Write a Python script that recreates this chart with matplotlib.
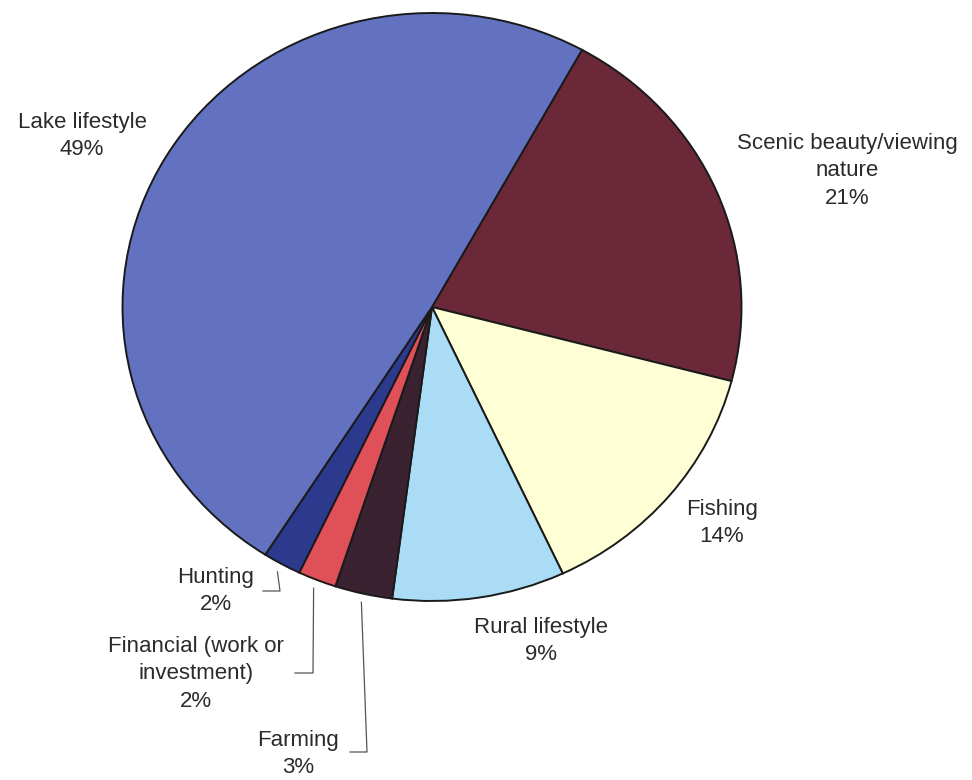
import numpy as np
import matplotlib.pyplot as plt

plt.rcParams['font.family'] = ['Liberation Sans', 'DejaVu Sans']

# reasons for owning property, share of responses
categories = ["Scenic beauty/viewing\nnature", "Fishing", "Rural lifestyle", "Farming",
              "Financial (work or\ninvestment)", "Hunting", "Lake lifestyle"]
shares = [21, 14, 9, 3, 2, 2, 49]
colors = ["#6a2838", "#ffffd6", "#aadcf6", "#3b2230", "#df5058", "#2c3a8e", "#6372c0"]

# label anchor (pixel centre of the text block) and optional leader elbow
label_pos = [(847, 171), (722, 523), (541, 641), (298, 754), (196, 674), (216, 591), (82, 136)]
leaders = {3: [(350, 752), (367, 752)], 4: [(295, 673), (313, 673)], 5: [(263, 591), (280, 591)]}

W, H = 972, 780
cx, cy, rx, ry = 432, 307, 309.5, 294.0


def px(x, y):
    "Converts a pixel position into pie data coordinates"
    return (x - cx) / rx, (cy - y) / ry


fig = plt.figure(figsize=(W / 100, H / 100), dpi=100)
ax = fig.add_axes([0, 0, 1, 1])
wedges, _ = ax.pie(shares, colors=colors, startangle=61, counterclock=False,
                   wedgeprops=dict(edgecolor="#1a1a1a", linewidth=1.4))
ax.set_aspect('auto')
x0, y0 = px(0, H)
x1, y1 = px(W, 0)
ax.set_xlim(x0, x1)
ax.set_ylim(y0, y1)
ax.axis('off')

for i, (name, val) in enumerate(zip(categories, shares)):
    tx, ty = px(*label_pos[i])
    ax.text(tx, ty, "%s\n%d%%" % (name, val), ha='center', va='center',
            fontsize=16, color="#2b2b2b", linespacing=1.42)
    if i in leaders:
        w = wedges[i]
        mid = np.deg2rad((w.theta1 + w.theta2) / 2)
        pts = [px(*p) for p in leaders[i]]
        pts.append((1.03 * np.cos(mid), 1.03 * np.sin(mid)))
        ax.plot([p[0] for p in pts], [p[1] for p in pts], color="#555555", lw=0.9)

fig.savefig("out.png", dpi=100)
